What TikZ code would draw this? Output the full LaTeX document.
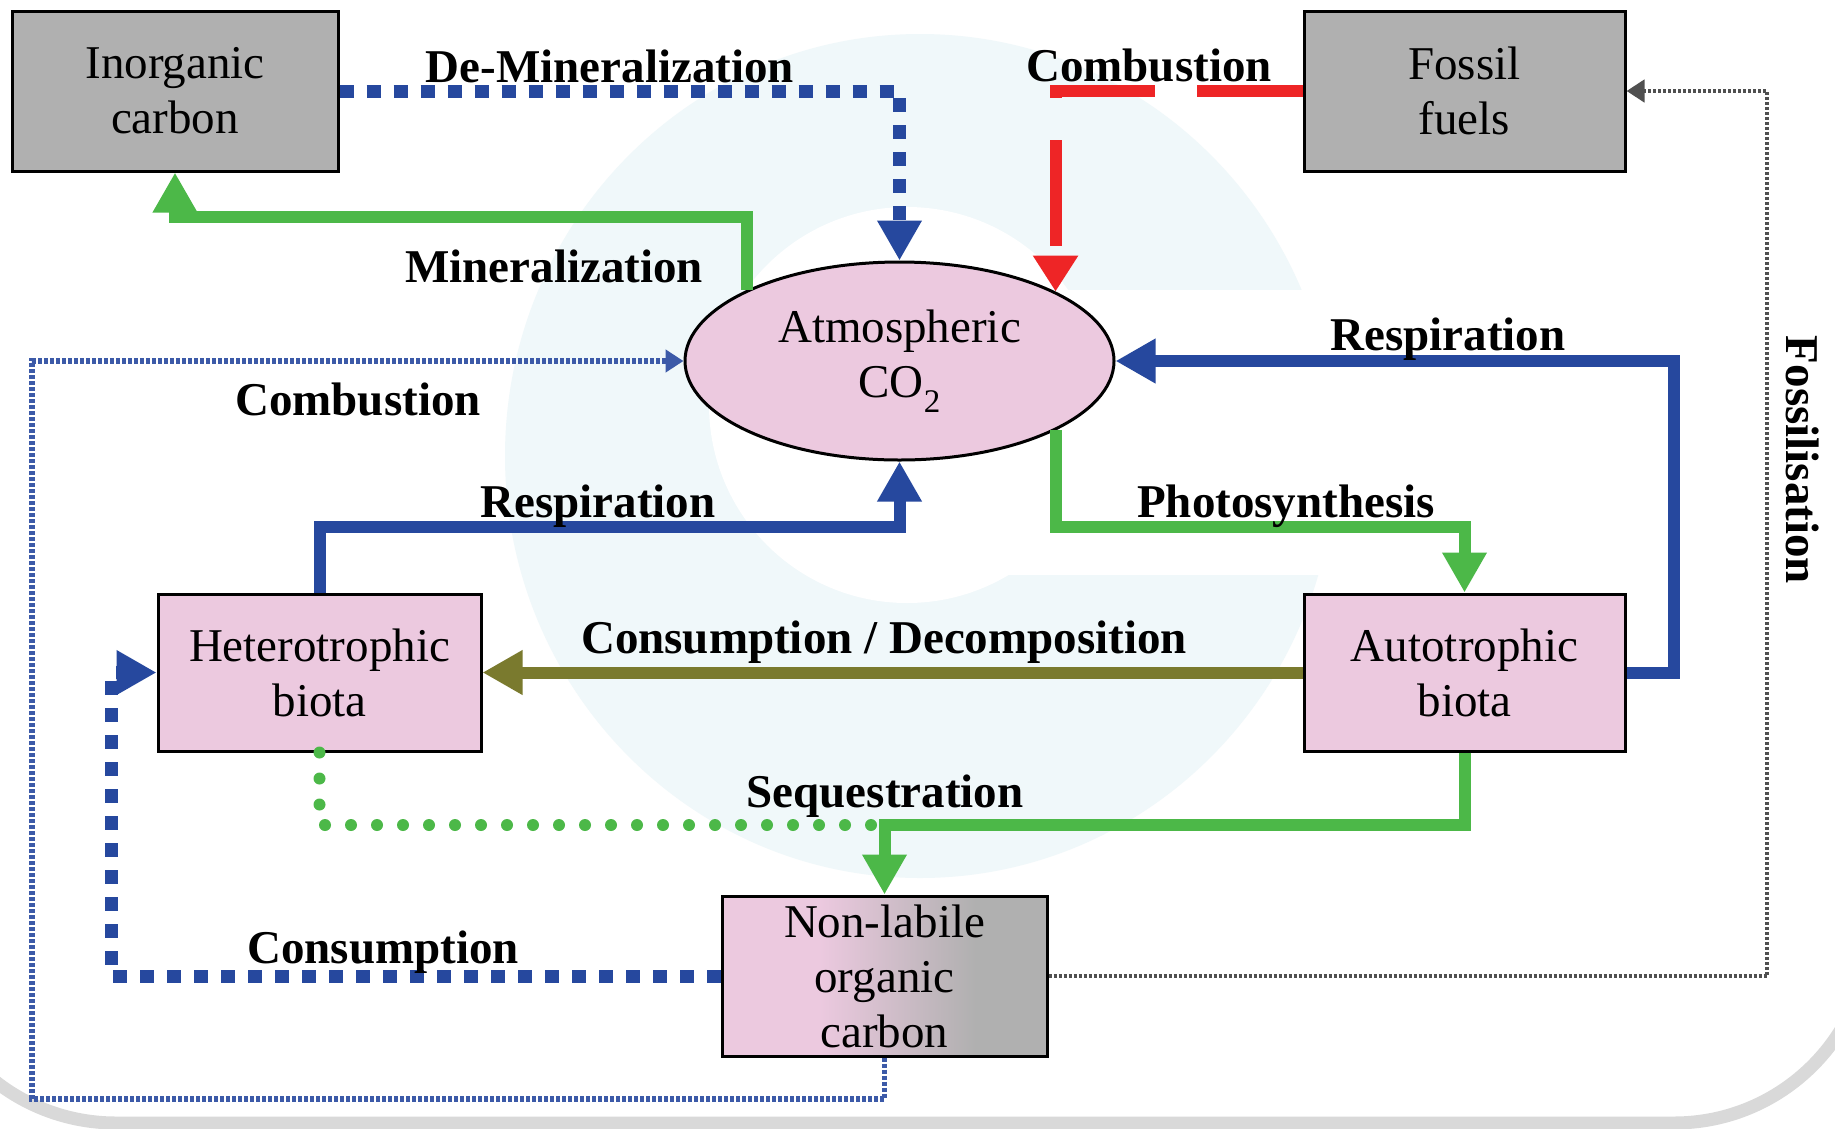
\documentclass[tikz,border=0pt]{standalone}
\usepackage{fontspec}
\setmainfont{Liberation Serif}
\usetikzlibrary{arrows.meta,shapes.geometric}
\definecolor{cblue}{HTML}{26489E}
\definecolor{cgreen}{HTML}{4CB848}
\definecolor{cred}{HTML}{EE2526}
\definecolor{colive}{HTML}{7A7A2E}
\definecolor{cpink}{HTML}{ECC9DF}
\definecolor{cgray}{HTML}{B0B0B0}
\definecolor{cring}{HTML}{F0F8FA}
\definecolor{cframe}{HTML}{D9D9D9}
\definecolor{cfos}{HTML}{505050}
\pgfdeclarehorizontalshading{nlshade}{100bp}{rgb(0bp)=(0.925,0.788,0.875); rgb(40bp)=(0.925,0.788,0.875); rgb(64bp)=(0.69,0.69,0.69); rgb(100bp)=(0.69,0.69,0.69)}
\tikzset{
  box/.style={draw=black, line width=3pt, inner sep=0pt, align=center,
    font=\fontsize{47}{55}\selectfont},
  lbl/.style={inner sep=0pt, font=\fontsize{47}{55}\selectfont\bfseries},
  bigtip/.style={-{Triangle[length=40pt,width=42pt]}},
  smalltip/.style={-{Triangle[length=18pt,width=22pt]}},
  blueflow/.style={draw=cblue, line width=12pt, bigtip},
  greenflow/.style={draw=cgreen, line width=12pt, bigtip},
  bluedots/.style={draw=cblue, line width=13pt, dash pattern=on 14pt off 13pt, bigtip},
  redflow/.style={draw=cred, line width=12pt, dash pattern=on 106pt off 42pt, -{Triangle[length=36pt,width=43pt]}},
  olivflow/.style={draw=colive, line width=12pt, bigtip},
  greendots/.style={draw=cgreen, line width=12pt, line cap=round, dash pattern=on 0pt off 26pt},
  thinblue/.style={draw=cblue!90, line width=5.5pt, dash pattern=on 4pt off 2pt, smalltip},
  fosline/.style={draw=cfos, line width=4.5pt, dash pattern=on 3pt off 2pt, smalltip}
}
\begin{document}
\begin{tikzpicture}[x=1pt,y=-1pt]
\useasboundingbox (0,0) rectangle (1835,1128);
\begin{scope}
\clip (0,0) rectangle (1835,1128);
\fill[white] (0,0) rectangle (1835,1128);
\fill[cring] (920,456) ellipse[x radius=415, y radius=422];
\fill[white] (907,405) circle[radius=198];
\fill[white] (907,290) rectangle (1345,575);
\draw[cframe, line width=13pt, rounded corners=196pt] (-80,-300) rectangle (1870,1123);
\end{scope}

% nodes
\node[box, fill=cgray, minimum width=326pt, minimum height=160pt] (inorg) at (175,91) {Inorganic\\carbon};
\node[box, fill=cgray, minimum width=321pt, minimum height=160pt] (fossil) at (1464.5,91) {Fossil\\fuels};
\node[box, fill=cpink, ellipse, minimum width=429pt, minimum height=198pt] (atm) at (899.5,361) {Atmospheric\\CO\raisebox{-15pt}{\fontsize{33}{33}\selectfont 2}};
\node[box, fill=cpink, minimum width=323pt, minimum height=157pt] (hetero) at (319.5,672.5) {Heterotrophic\\biota};
\node[box, fill=cpink, minimum width=321pt, minimum height=157pt] (auto) at (1464.5,672.5) {Autotrophic\\biota};
\node[box, shade, shading=nlshade, minimum width=325pt, minimum height=160pt] (nonlab) at (884.5,976) {Non-labile\\organic\\carbon};

% helper corners
\coordinate (cMin) at (400,217);
\coordinate (cBL) at (32,1099);
\coordinate (cResL) at (600,527);
\coordinate (cPho) at (1200,527);
\coordinate (cResR) at (1674,500);
\coordinate (cSeq) at (1200,825);
\coordinate (cCons) at (111,800);
\coordinate (cFos) at (1767,500);

% connectors
\draw[bluedots] (inorg.east) -| (atm.north);
\draw[redflow] (fossil.west) -| (atm.24.5);
\draw[greenflow] (atm.155.2) |- (cMin) -| (inorg.south);
\draw[thinblue] (nonlab.south) |- (cBL) |- (atm.west);
\draw[blueflow] (hetero.north) |- (cResL) -| (atm.south);
\draw[greenflow] (atm.-24.5) |- (cPho) -| (auto.north);
\draw[blueflow] (auto.east) -| (cResR) |- (atm.east);
\draw[olivflow] (auto.west) -- (hetero.east);
\draw[greendots] (hetero.south) |- (nonlab.north |- cSeq);
\draw[greenflow] (auto.south) |- (cSeq) -| (nonlab.north);
\draw[bluedots] (nonlab.west) -| (cCons) |- (hetero.west);
\draw[fosline] (nonlab.east) -| (cFos) |- (fossil.east);

% labels
\node[lbl, anchor=base] (lDemin) at (610,82) {De-Mineralization};
\node[lbl, anchor=base] (lCombT) at (1149,81) {Combustion};
\node[lbl, anchor=base] (lMin) at (554,282) {Mineralization};
\node[lbl, anchor=base] (lCombL) at (358,415) {Combustion};
\node[lbl, anchor=base] (lRespL) at (598,517) {Respiration};
\node[lbl, anchor=base] (lRespR) at (1448,350) {Respiration};
\node[lbl, anchor=base] (lPho) at (1286,517) {Photosynthesis};
\node[lbl, anchor=base] (lCD) at (884,653) {Consumption / Decomposition};
\node[lbl, anchor=base] (lSeq) at (885,807) {Sequestration};
\node[lbl, anchor=base] (lCons) at (383,963) {Consumption};
\node[lbl, rotate=-90] (lFos) at (1803,460) {Fossilisation};
\end{tikzpicture}
\end{document}
